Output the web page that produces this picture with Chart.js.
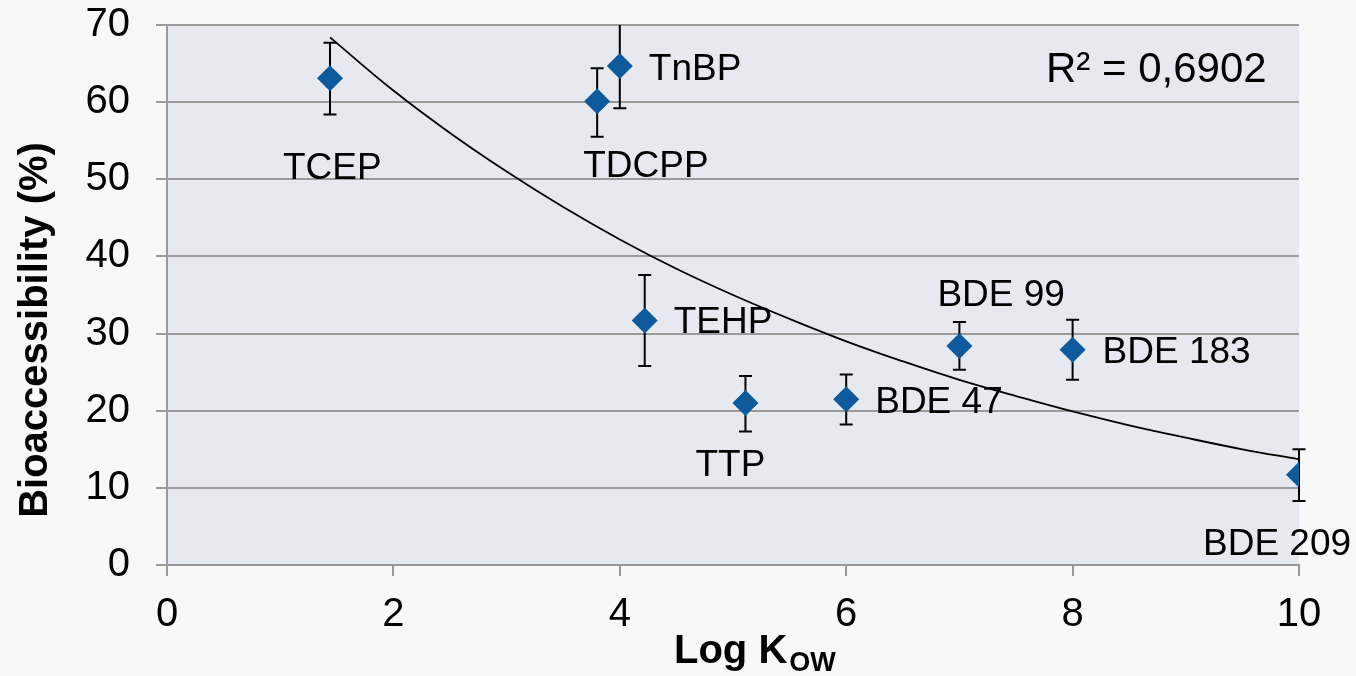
<!DOCTYPE html>
<html>
<head>
<meta charset="utf-8">
<script src="https://cdn.jsdelivr.net/npm/chart.js@4.4.0/dist/chart.umd.min.js"></script>
<style>
  html, body { margin: 0; padding: 0; background: #f8f8f8; }
</style>
</head>
<body>
<canvas id="myChart" width="1356" height="676"></canvas>
<script>
const compounds = ['TCEP', 'TDCPP', 'TnBP', 'TEHP', 'TTP', 'BDE 47', 'BDE 99', 'BDE 183', 'BDE 209'];
const logKow = [1.44, 3.80, 4.00, 4.22, 5.11, 6.00, 7.00, 8.00, 10.00];
const bioaccessibility = [63.1, 60.1, 64.7, 31.7, 21.0, 21.5, 28.4, 27.9, 11.7];
const errorLow = [58.4, 55.5, 59.2, 25.8, 17.3, 18.2, 25.3, 24.0, 8.3];
const errorHigh = [67.7, 64.4, 70.2, 37.6, 24.5, 24.7, 31.5, 31.8, 15.0];

// exponential trendline
const trendX = [1.44, 2, 2.5, 3, 3.5, 4, 4.5, 5, 5.5, 6, 6.5, 7, 7.5, 8, 8.5, 9, 9.5, 10];
const trendY = [68.4, 61.5, 56.0, 51.0, 46.4, 42.2, 38.4, 35.0, 31.9, 29.0, 26.4, 24.0, 21.9, 19.9, 18.1, 16.5, 15.0, 13.7];
const rSquaredText = 'R² = 0,6902';

const xTicks = [0, 2, 4, 6, 8, 10];
const yTicks = [0, 10, 20, 30, 40, 50, 60, 70];

// where each label sits relative to its marker (px)
const labelOffsets = [
  [-47, 101], [-14, 76], [29, 14], [29, 13], [-50, 73],
  [29, 14], [-22, -40], [30, 13], [-96, 80]
];

const FONT = '"Liberation Sans", Arial, sans-serif';
const markerColor = '#0f5a9c';
const gridColor = '#9a9a9a';

const backgroundPlugin = {
  id: 'background',
  beforeDraw(chart) {
    const { ctx, chartArea: a } = chart;
    ctx.save();
    ctx.fillStyle = '#f8f8f8';
    ctx.fillRect(0, 0, chart.width, chart.height);
    ctx.fillStyle = '#e6e9f0';
    ctx.fillRect(a.left, a.top, a.right - a.left, a.bottom - a.top);
    ctx.restore();
  }
};

const errorBarPlugin = {
  id: 'errorBars',
  beforeDatasetsDraw(chart) {
    const { ctx, chartArea: a, scales } = chart;
    ctx.save();
    ctx.beginPath();
    ctx.rect(a.left - 10, a.top, a.right - a.left + 20, a.bottom - a.top);
    ctx.clip();
    ctx.strokeStyle = '#000';
    ctx.lineWidth = 2;
    for (let i = 0; i < logKow.length; i++) {
      const x = scales.x.getPixelForValue(logKow[i]);
      const yLow = scales.y.getPixelForValue(errorLow[i]);
      const yHigh = scales.y.getPixelForValue(errorHigh[i]);
      ctx.beginPath();
      ctx.moveTo(x, yLow);
      ctx.lineTo(x, yHigh);
      ctx.moveTo(x - 6.5, yLow);
      ctx.lineTo(x + 6.5, yLow);
      ctx.moveTo(x - 6.5, yHigh);
      ctx.lineTo(x + 6.5, yHigh);
      ctx.stroke();
    }
    ctx.restore();
  }
};

const textPlugin = {
  id: 'texts',
  afterDraw(chart) {
    const { ctx, scales } = chart;
    ctx.save();
    ctx.fillStyle = '#000';
    ctx.textAlign = 'left';
    ctx.textBaseline = 'alphabetic';

    ctx.font = '37px ' + FONT;
    for (let i = 0; i < compounds.length; i++) {
      const x = scales.x.getPixelForValue(logKow[i]);
      const y = scales.y.getPixelForValue(bioaccessibility[i]);
      ctx.fillText(compounds[i], x + labelOffsets[i][0], y + labelOffsets[i][1]);
    }

    ctx.font = '42px ' + FONT;
    ctx.fillText(rSquaredText, 1046, 82);

    // x axis title with subscript
    ctx.font = 'bold 40px ' + FONT;
    ctx.fillText('Log K', 674, 663);
    const w = ctx.measureText('Log K').width;
    ctx.font = 'bold 27px ' + FONT;
    ctx.fillText('OW', 674 + w + 2, 671);

    // y axis title
    ctx.translate(47, 330);
    ctx.rotate(-Math.PI / 2);
    ctx.textAlign = 'center';
    ctx.font = 'bold 40px ' + FONT;
    ctx.fillText('Bioaccessibility (%)', 0, 0);
    ctx.restore();
  }
};

const context = document.getElementById('myChart').getContext('2d');

const chart = new Chart(context, {
  type: 'scatter',
  data: {
    datasets: [
      {
        label: 'Bioaccessibility',
        data: logKow.map((x, i) => ({ x: x, y: bioaccessibility[i] })),
        pointStyle: 'rectRot',
        pointRadius: 13,
        backgroundColor: markerColor,
        borderColor: markerColor,
        borderWidth: 0,
      },
      {
        label: 'Trend',
        data: trendX.map((x, i) => ({ x: x, y: trendY[i] })),
        showLine: true,
        borderColor: '#000',
        borderWidth: 1.8,
        tension: 0.4,
        pointRadius: 0,
        fill: false,
      },
    ],
  },
  options: {
    responsive: false,
    animation: false,
    events: [],
    layout: { padding: { top: 25, right: 57, left: 0, bottom: 0 } },
    plugins: {
      legend: { display: false },
      tooltip: { enabled: false },
    },
    scales: {
      x: {
        type: 'linear',
        min: 0,
        max: 10,
        afterFit(scale) {
          scale.height = 111;
          scale.paddingLeft = 0;
          scale.paddingRight = 0;
        },
        afterBuildTicks(scale) { scale.ticks = xTicks.map((v) => ({ value: v })); },
        grid: {
          drawOnChartArea: false,
          drawTicks: true,
          tickLength: 11,
          color: gridColor,
          lineWidth: 2,
        },
        border: { display: true, color: gridColor, width: 2 },
        ticks: {
          color: '#000',
          padding: 15,
          maxRotation: 0,
          font: { family: FONT, size: 40 },
        },
      },
      y: {
        type: 'linear',
        min: 0,
        max: 70,
        afterFit(scale) {
          scale.width = 167;
          scale.paddingTop = 0;
          scale.paddingBottom = 0;
        },
        afterBuildTicks(scale) { scale.ticks = yTicks.map((v) => ({ value: v })); },
        grid: {
          drawOnChartArea: true,
          drawTicks: true,
          tickLength: 11,
          color: gridColor,
          lineWidth: 2,
        },
        border: { display: true, color: gridColor, width: 2 },
        ticks: {
          color: '#000',
          padding: 26,
          font: { family: FONT, size: 40 },
        },
      },
    },
  },
  plugins: [backgroundPlugin, errorBarPlugin, textPlugin],
});
</script>
</body>
</html>
